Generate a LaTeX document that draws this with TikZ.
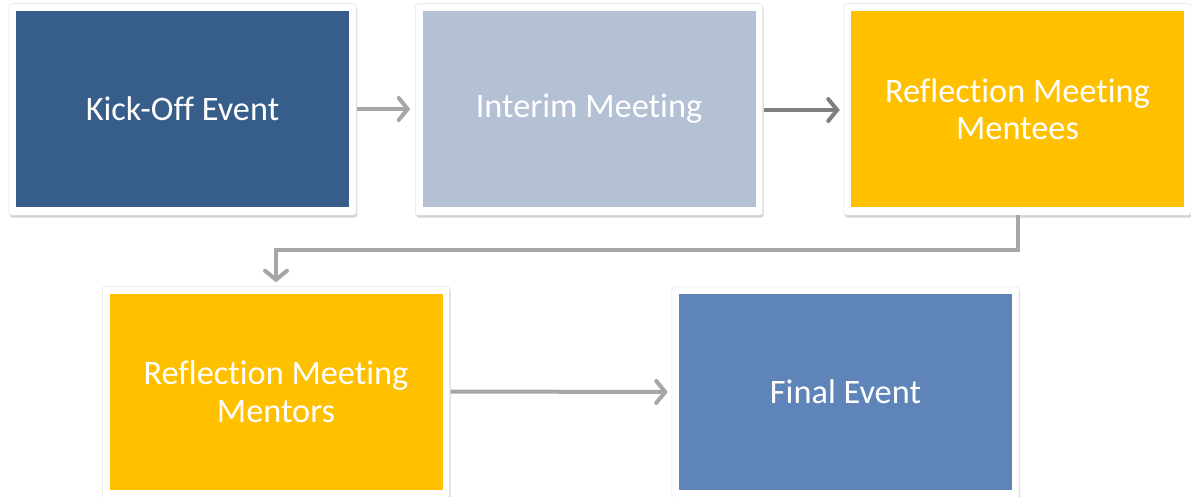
\documentclass[tikz,border=0pt]{standalone}
\usepackage{fontspec}
\setmainfont{Carlito}[Ligatures={NoCommon}]
\usetikzlibrary{arrows.meta,shadows,backgrounds}
\definecolor{kickblue}{HTML}{375D8A}
\definecolor{interimgray}{HTML}{B4C0D3}
\definecolor{amber}{HTML}{FFC000}
\definecolor{finalblue}{HTML}{5F84B9}
\definecolor{arrgray}{HTML}{A6A6A6}
\definecolor{arrdark}{HTML}{808080}
\tikzset{
  stagebox/.style={minimum width=333pt, minimum height=196pt, inner sep=0pt,
    text=white, align=center, font=\fontsize{34.3}{37.5}\selectfont},
  framebox/.style={fill=white, draw=black!10, line width=0.6pt, rounded corners=3pt,
    drop shadow={shadow xshift=1pt, shadow yshift=-2.5pt, opacity=0.35}},
  flowarrow/.style={draw=arrgray, line width=4pt,
    -{Straight Barb[length=9pt, width=22pt, line cap=round]}},
}
\begin{document}
\begin{tikzpicture}[x=1pt,y=-1pt]
\useasboundingbox (0,0) rectangle (1191,497);
\node[stagebox, fill=kickblue] (B1) at (182.5,109) {Kick-Off Event};
\node[stagebox, fill=interimgray] (B2) at (589,109) {Interim Meeting};
\node[stagebox, fill=amber] (B3) at (1017.5,109) {Reflection Meeting\\Mentees};
\node[stagebox, fill=amber] (B4) at (276,391.5) {Reflection Meeting\\Mentors};
\node[stagebox, fill=finalblue] (B5) at (845.5,392) {Final Event};
\begin{pgfonlayer}{background}
\foreach \n in {B1,B2,B3,B4,B5}{
  \path[framebox] ([shift={(-7pt,-8pt)}]\n.south west) rectangle ([shift={(7pt,7pt)}]\n.north east);
}
\end{pgfonlayer}
\draw[flowarrow] ([xshift=8pt]B1.east) -- ([xshift=-12pt]B2.west);
\draw[flowarrow, draw=arrdark] ([xshift=8pt,yshift=-1pt]B2.east) -- ([xshift=-11pt,yshift=-1pt]B3.west);
\draw[flowarrow] ([yshift=-8pt]B3.south) |- ([yshift=43pt]B4.north) -- ([yshift=11pt]B4.north);
\draw[flowarrow] ([xshift=8pt]B4.east) -- ([xshift=-11pt]B5.west);
\end{tikzpicture}
\end{document}
